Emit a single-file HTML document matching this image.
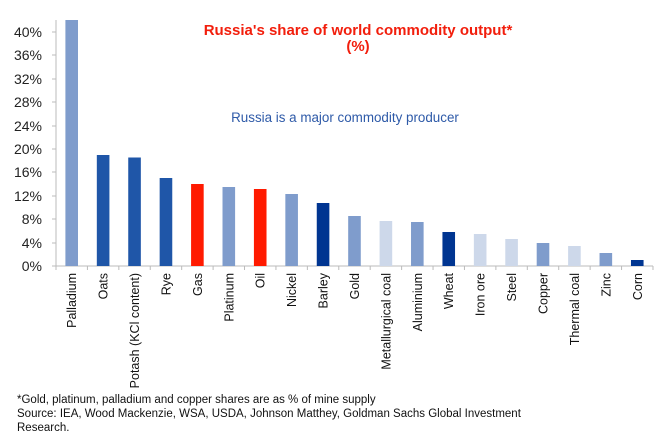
<!DOCTYPE html>
<html><head><style>body{margin:0;background:#fff}svg{display:block}</style></head><body>
<svg width="657" height="442" xmlns="http://www.w3.org/2000/svg" font-family="Liberation Sans, Arial, sans-serif">
<rect width="657" height="442" fill="#fff"/>
<g font-size="14" fill="#222" text-anchor="end">
<text x="42" y="271">0%</text><text x="42" y="248">4%</text><text x="42" y="224">8%</text><text x="42" y="201">12%</text><text x="42" y="177">16%</text><text x="42" y="154">20%</text><text x="42" y="131">24%</text><text x="42" y="107">28%</text><text x="42" y="84">32%</text><text x="42" y="60">36%</text><text x="42" y="37">40%</text>
</g>
<g stroke="#bbb" stroke-width="1">
<line x1="56" y1="20" x2="56" y2="266"/>
<line x1="56" y1="266" x2="653" y2="266"/>
<line x1="52" y1="266" x2="56" y2="266"/><line x1="52" y1="243" x2="56" y2="243"/><line x1="52" y1="219" x2="56" y2="219"/><line x1="52" y1="196" x2="56" y2="196"/><line x1="52" y1="172" x2="56" y2="172"/><line x1="52" y1="149" x2="56" y2="149"/><line x1="52" y1="126" x2="56" y2="126"/><line x1="52" y1="102" x2="56" y2="102"/><line x1="52" y1="79" x2="56" y2="79"/><line x1="52" y1="55" x2="56" y2="55"/><line x1="52" y1="32" x2="56" y2="32"/>
</g>
<g id="bars"></g>
<g id="ticks" stroke="#bbb"></g>
<g id="labels" font-size="12.5" fill="#111"></g>
<text x="358" y="35" text-anchor="middle" font-size="15" font-weight="bold" fill="#f21e0c">Russia's share of world commodity output*</text>
<text x="358" y="51" text-anchor="middle" font-size="15" font-weight="bold" fill="#f21e0c">(%)</text>
<text x="345" y="122" text-anchor="middle" font-size="13.4" fill="#2e5aa8">Russia is a major commodity producer</text>
<g font-size="11.5" fill="#111">
<text x="17" y="403">*Gold, platinum, palladium and copper shares are as % of mine supply</text>
<text x="17" y="417">Source: IEA, Wood Mackenzie, WSA, USDA, Johnson Matthey, Goldman Sachs Global Investment</text>
<text x="17" y="431">Research.</text>
</g>
<script>
var L="#7f9ccc",D="#1f56a8",R="#ff1a00",N="#003591",P="#cdd8ea";
var d=[["Palladium",20,L],["Oats",155,D],["Potash (KCl content)",157.5,D],["Rye",178,D],["Gas",184,R],["Platinum",187,L],["Oil",189,R],["Nickel",194,L],["Barley",203,N],["Gold",216,L],["Metallurgical coal",221,P],["Aluminium",222,L],["Wheat",232,N],["Iron ore",234,P],["Steel",239,P],["Copper",243,L],["Thermal coal",246,P],["Zinc",253,L],["Corn",260,N]];
var ns="http://www.w3.org/2000/svg",b=document.getElementById("bars"),t=document.getElementById("ticks"),l=document.getElementById("labels");
for(var i=0;i<=19;i++){var ln=document.createElementNS(ns,"line");var x=56+i*31.42;ln.setAttribute("x1",x);ln.setAttribute("x2",x);ln.setAttribute("y1",266);ln.setAttribute("y2",270);t.appendChild(ln);}
d.forEach(function(e,i){var cx=71.7+i*31.42;var r=document.createElementNS(ns,"rect");r.setAttribute("x",cx-6.3);r.setAttribute("width",12.6);r.setAttribute("y",e[1]);r.setAttribute("height",266-e[1]);r.setAttribute("fill",e[2]);b.appendChild(r);
var tx=document.createElementNS(ns,"text");tx.setAttribute("transform","translate("+(cx+4.5)+",273) rotate(-90)");tx.setAttribute("text-anchor","end");tx.textContent=e[0];l.appendChild(tx);});
</script>
</svg>
</body></html>
